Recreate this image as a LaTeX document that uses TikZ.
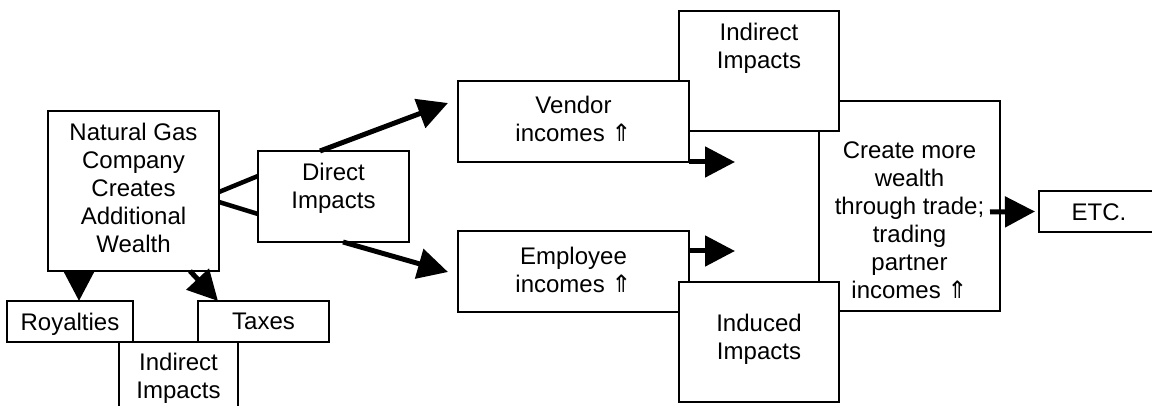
\documentclass[tikz,border=0pt]{standalone}
\usepackage{fontspec}
\setmainfont{Liberation Sans}
\newfontfamily\symfont{DejaVu Sans}
\usetikzlibrary{arrows.meta,calc}
\newcommand{\upar}{{\symfont ⇑}}
\begin{document}
\begin{tikzpicture}[x=1pt,y=-1pt,
  box/.style={draw=black, line width=1.4pt, fill=white, inner sep=0pt, outer sep=0pt, anchor=north west},
  txt/.style={align=center, font=\fontsize{24pt}{28pt}\selectfont, inner sep=0pt},
  conn/.style={line width=4.5pt},
  arr/.style={line width=5pt, -{Triangle[length=30pt,width=30pt]}}]
\useasboundingbox (0,0) rectangle (1152,406);
\clip (0,0) rectangle (1152,406);
% bottom-left group
\node[box, minimum width=119, minimum height=90] (indB) at (119,342) {};
\node[box, minimum width=126, minimum height=41] (roy) at (7,301) {};
\node[box, minimum width=131, minimum height=41] (tax) at (198,301) {};
% left boxes
\node[box, minimum width=171, minimum height=160] (ng) at (48,111) {};
\node[box, minimum width=151, minimum height=91] (direct) at (258,151) {};
% right group
\node[box, minimum width=181, minimum height=210] (center) at (819,101) {};
\node[box, minimum width=160, minimum height=120] (indT) at (679,11) {};
\node[box, minimum width=231, minimum height=81] (vendor) at (458,81) {};
\node[box, minimum width=231, minimum height=81] (employee) at (458,231) {};
\node[box, minimum width=160, minimum height=120] (induced) at (679,282) {};
\node[box, minimum width=130, minimum height=41] (etc) at (1039,191) {};
% texts
\node[txt] (ngT) at (133.5,187.5) {Natural Gas\\Company\\Creates\\Additional\\Wealth};
\node[txt] (directT) at (333.5,188.5) {Direct\\Impacts};
\node[txt] (vendorT) at (573.5,118.5) {Vendor\\incomes \upar};
\node[txt] (employeeT) at (573.5,269.5) {Employee\\incomes \upar};
\node[txt] (indTT) at (759,48.5) {Indirect\\Impacts};
\node[txt] (inducedT) at (759,339.5) {Induced\\Impacts};
\node[txt] (centerT) at (909.5,220.5) {Create more\\wealth\\through trade;\\trading\\partner\\incomes \upar};
\node[txt] (etcT) at (1099,212) {ETC.};
\node[txt] (royT) at (70,324) {Royalties};
\node[txt] (taxT) at (263.5,321.7) {Taxes};
\node[txt] (indBT) at (178.5,378) {Indirect\\Impacts};
% free ends
\coordinate (vendorOut) at ($(vendor.south east)+(46,0)$);
\coordinate (employeeOut) at ($(employee.north east)+(46,20)$);
% connectors
\draw[conn] ($(ng.north east)+(0,81)$) -- ($(direct.north west)+(0,25)$);
\draw[conn] ($(ng.north east)+(0,91)$) -- ($(direct.north west)+(0,63)$);
\draw[arr] ($(direct.north west)+(62,0)$) -- ($(vendor.north west)+(-10,22)$);
\draw[arr] ($(direct.south west)+(85,0)$) -- ($(employee.north west)+(-10,41)$);
\draw[arr] (vendor.south east) -- (vendorOut);
\draw[arr] ($(employee.north east)+(0,20)$) -- (employeeOut);
\draw[arr] ($(center.north east)+(-10,111)$) -- ($(etc.west)+(-4,0)$);
\draw[arr] ($(ng.south west)+(31,0)$) -- ($(roy.north west)+(72,0)$);
\draw[arr] ($(ng.south west)+(142,0)$) -- ($(tax.north west)+(20,0)$);
\end{tikzpicture}
\end{document}
